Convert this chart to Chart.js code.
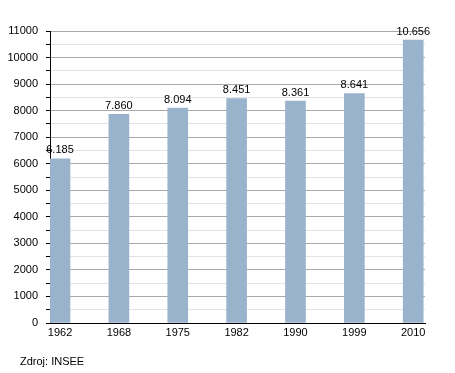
<!DOCTYPE html>
<html>
<head>
<meta charset="utf-8">
<script src="https://cdn.jsdelivr.net/npm/chart.js@4.4.1/dist/chart.umd.min.js"></script>
<style>
html,body{margin:0;padding:0;background:#fff;}
#wrap{position:relative;width:455px;height:373px;}
#src{position:absolute;left:20px;top:355px;font:11px "Liberation Sans",Arial,sans-serif;color:#000;}
</style>
</head>
<body>
<div id="wrap"><canvas id="c" width="455" height="373"></canvas><div id="src">Zdroj: INSEE</div></div>
<script>
const years = ['1962','1968','1975','1982','1990','1999','2010'];
const population = [6185, 7860, 8094, 8451, 8361, 8641, 10656];
const yTicks = [0,1000,2000,3000,4000,5000,6000,7000,8000,9000,10000,11000];

const FONT = '"Liberation Sans", Arial, sans-serif';
const fmt = v => String(v).replace(/\B(?=(\d{3})+(?!\d))/g, '.');

const labelPlugin = {
  id: 'valueLabels',
  afterDatasetsDraw(chart) {
    const ctx = chart.ctx;
    const meta = chart.getDatasetMeta(0);
    ctx.save();
    ctx.font = '11px ' + FONT;
    ctx.fillStyle = '#000';
    ctx.textAlign = 'center';
    ctx.textBaseline = 'bottom';
    meta.data.forEach((bar, i) => {
      ctx.fillText(fmt(population[i]), bar.x, bar.y - 3);
    });
    ctx.restore();
  }
};

new Chart(document.getElementById('c'), {
  type: 'bar',
  data: {
    datasets: [{
      data: population.map((v, i) => ({x: i, y: v})),
      backgroundColor: '#9ab3cd',
      borderWidth: 0,
      barThickness: 20
    }]
  },
  options: {
    responsive: false,
    animation: false,
    events: [],
    layout: {padding: {left: 0, right: 30, top: 31, bottom: 30}},
    plugins: {legend: {display: false}, tooltip: {enabled: false}},
    scales: {
      x: {
        type: 'linear',
        offset: false,
        min: -0.17,
        max: 6.2,
        afterBuildTicks(scale) {
          scale.ticks = years.map((y, i) => ({value: i}));
        },
        afterFit(scale) { scale.height = 20; },
        grid: {display: false, drawTicks: false, offset: false},
        border: {display: true, color: '#000', width: 1},
        ticks: {
          padding: 3,
          color: '#000',
          font: {family: FONT, size: 11},
          maxRotation: 0,
          autoSkip: false,
          callback: v => years[v] !== undefined ? years[v] : ''
        }
      },
      y: {
        min: 0,
        max: 11000,
        afterBuildTicks(scale) {
          const t = [];
          for (let v = 0; v <= 11000; v += 500) t.push({value: v});
          scale.ticks = t;
        },
        afterFit(scale) { scale.width = 50; },
        border: {display: true, color: '#000', width: 1},
        grid: {
          color: c => (c.tick && c.tick.value % 1000 === 0) ? (c.tick.value === 0 ? 'rgba(0,0,0,0)' : '#a9a9a9') : '#e3e3e3',
          tickColor: '#000',
          tickLength: 4,
          lineWidth: 1
        },
        ticks: {
          padding: 8,
          color: '#000',
          font: {family: FONT, size: 11},
          autoSkip: false,
          callback: v => yTicks.includes(v) ? String(v) : ''
        }
      }
    }
  },
  plugins: [labelPlugin]
});
</script>
</body>
</html>
